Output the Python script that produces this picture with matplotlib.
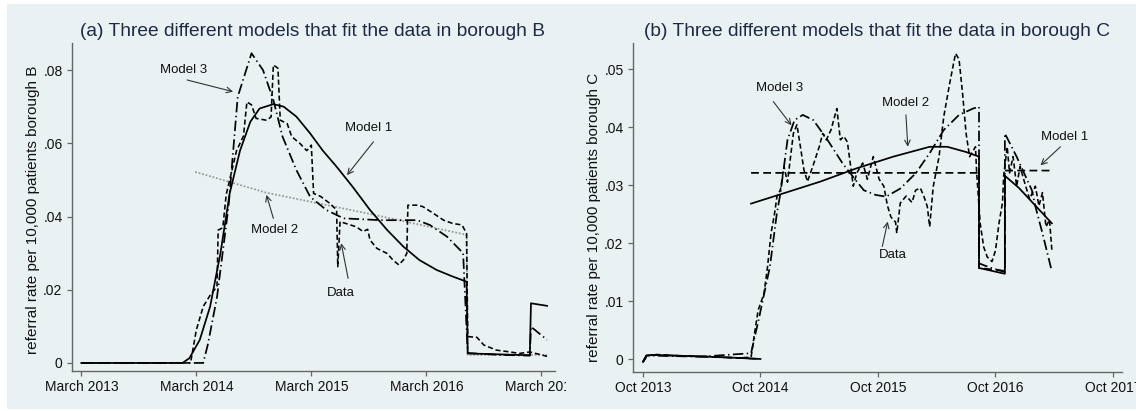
import matplotlib
matplotlib.use('Agg')
import matplotlib.pyplot as plt
from matplotlib.patches import Rectangle
from matplotlib.transforms import Bbox, TransformedBbox
import numpy as np

plt.rcParams['font.family'] = ['Liberation Sans', 'DejaVu Sans']

# ── data: panel (a) borough B  (x = decimal year) ────────────────────────────
b_m1_x = [2013.17, 2014.05, 2014.11, 2014.20, 2014.29, 2014.38, 2014.46, 2014.55,
          2014.64, 2014.72, 2014.84, 2014.93, 2015.04, 2015.16, 2015.27, 2015.39,
          2015.53, 2015.68, 2015.83, 2015.97, 2016.11, 2016.26, 2016.40, 2016.52,
          2016.53, 2017.07, 2017.08, 2017.22]
b_m1_y = [0, 0, 0.0013, 0.0063, 0.0154, 0.030, 0.0463, 0.058,
          0.0659, 0.0695, 0.0707, 0.070, 0.0673, 0.0627, 0.058, 0.0536,
          0.0481, 0.0418, 0.0363, 0.0318, 0.0281, 0.0254, 0.0236, 0.0222,
          0.0026, 0.0021, 0.0163, 0.0156]

b_m2_x = [2014.16, 2014.78, 2015.68, 2016.52, 2016.53, 2017.22]
b_m2_y = [0.0522, 0.0465, 0.0407, 0.035, 0.0022, 0.0022]

b_m3_x = [2013.17, 2014.23, 2014.27, 2014.35, 2014.45, 2014.53, 2014.65, 2014.75,
          2014.84, 2014.92, 2015.04, 2015.16, 2015.30, 2015.45, 2015.77, 2016.09,
          2016.20, 2016.35, 2016.49, 2016.53, 2016.81, 2017.07, 2017.08, 2017.22]
b_m3_y = [0, 0, 0.005, 0.018, 0.0427, 0.0727, 0.0846, 0.080,
          0.0718, 0.0618, 0.0527, 0.0454, 0.0418, 0.0395, 0.039, 0.039,
          0.0377, 0.0345, 0.030, 0.0027, 0.0022, 0.0020, 0.0099, 0.0063]

b_data_x = [2013.17, 2014.12, 2014.17, 2014.23, 2014.30, 2014.35, 2014.36, 2014.40,
            2014.43, 2014.52, 2014.58, 2014.61, 2014.65, 2014.69, 2014.78, 2014.82,
            2014.84, 2014.88, 2014.90, 2014.96, 2015.00, 2015.07, 2015.13, 2015.17,
            2015.19, 2015.25, 2015.33, 2015.39, 2015.40, 2015.42, 2015.56, 2015.62,
            2015.66, 2015.68, 2015.74, 2015.83, 2015.88, 2015.93, 2015.97, 2016.00,
            2016.01, 2016.09, 2016.14, 2016.23, 2016.32, 2016.40, 2016.48, 2016.52,
            2016.53, 2016.61, 2016.67, 2016.78, 2016.90, 2016.98, 2017.07, 2017.22]
b_data_y = [0, 0, 0.009, 0.0154, 0.019, 0.0208, 0.0363, 0.0369,
            0.046, 0.058, 0.062, 0.0713, 0.0705, 0.0668, 0.0663, 0.0672,
            0.0814, 0.0805, 0.0663, 0.0654, 0.0618, 0.060, 0.058, 0.0595,
            0.0463, 0.0455, 0.0436, 0.0418, 0.0263, 0.0386, 0.0372, 0.0359,
            0.0365, 0.0336, 0.0313, 0.0299, 0.0281, 0.0268, 0.0281, 0.0299,
            0.0431, 0.0431, 0.0427, 0.0409, 0.039, 0.0381, 0.0377, 0.0354,
            0.0072, 0.0070, 0.0049, 0.0035, 0.0030, 0.0026, 0.0030, 0.0018]

b_ticks = [2013.17, 2014.17, 2015.17, 2016.17, 2017.17]
b_ticklabels = ['March 2013', 'March 2014', 'March 2015', 'March 2016', 'March 2017']
b_yticks = [0, 0.02, 0.04, 0.06, 0.08]
b_yticklabels = ['0', '.02', '.04', '.06', '.08']

# ── data: panel (b) borough C  (nan = break between model periods) ──────────
c_pre_x = [2013.75, 2013.78, 2013.85, 2014.0, 2014.3, 2014.55, 2014.75]
c_pre_y = [-0.0005, 0.0006, 0.0007, 0.0006, 0.0004, 0.0002, 0.0000]

c_m1_x = c_pre_x + [np.nan, 2014.67, 2016.61, 2016.61, 2016.83, 2016.83, 2017.24]
c_m1_y = c_pre_y + [np.nan, 0.0321, 0.0321, 0.0157, 0.0152, 0.0325, 0.0325]

c_m2_x = c_pre_x + [np.nan, 2014.67, 2014.95, 2015.26, 2015.57, 2015.88, 2016.19,
                    2016.34, 2016.50, 2016.61, 2016.61, 2016.83, 2016.83, 2016.95,
                    2017.23]
c_m2_y = c_pre_y + [np.nan, 0.0268, 0.0286, 0.0306, 0.0329, 0.0349, 0.0366,
                    0.0366, 0.0357, 0.0349, 0.0157, 0.0147, 0.0316, 0.0295,
                    0.0234]

c_m3_x = [2013.75, 2013.78, 2014.24, 2014.67, 2014.74, 2014.83, 2014.89, 2014.92,
          2014.98, 2015.04, 2015.11, 2015.20, 2015.32, 2015.45, 2015.57, 2015.63,
          2015.73, 2015.82, 2015.94, 2016.07, 2016.19, 2016.31, 2016.44, 2016.56,
          2016.61, 2016.61, 2016.70, 2016.83, 2016.83, 2016.93, 2017.06, 2017.09,
          2017.15, 2017.23]
c_m3_y = [-0.0005, 0.0006, 0.0004, 0.001, 0.0073, 0.0159, 0.0252, 0.0286,
          0.0378, 0.0412, 0.0421, 0.0412, 0.0378, 0.0337, 0.0306, 0.0291,
          0.0283, 0.028, 0.0294, 0.032, 0.0355, 0.0395, 0.0421, 0.0432,
          0.0435, 0.0165, 0.0158, 0.0150, 0.0389, 0.0349, 0.0291, 0.0263,
          0.0217, 0.0151]

c_data_x = [2013.75, 2013.79, 2013.85, 2014.0, 2014.3, 2014.55, 2014.67, 2014.70,
            2014.73, 2014.78, 2014.81, 2014.84, 2014.87, 2014.89, 2014.92, 2014.95,
            2014.98, 2015.03, 2015.06, 2015.09, 2015.12, 2015.15, 2015.20, 2015.25,
            2015.28, 2015.31, 2015.35, 2015.40, 2015.43, 2015.46, 2015.49, 2015.54,
            2015.57, 2015.62, 2015.66, 2015.71, 2015.76, 2015.80, 2015.83, 2015.86,
            2015.90, 2015.91, 2015.94, 2015.99, 2016.04, 2016.07, 2016.11, 2016.14,
            2016.17, 2016.19, 2016.22, 2016.27, 2016.31, 2016.36, 2016.41, 2016.44,
            2016.47, 2016.50, 2016.53, 2016.58, 2016.59, 2016.62, 2016.65, 2016.68,
            2016.72, 2016.75, 2016.78, 2016.81, 2016.82, 2016.85, 2016.87, 2016.90,
            2016.93, 2016.96, 2016.99, 2017.04, 2017.09, 2017.12, 2017.15, 2017.18,
            2017.21, 2017.23]
c_data_y = [-0.0005, 0.0006, 0.0008, 0.0006, 0.0004, 0.0002, 0.0003, 0.0045,
            0.0084, 0.0113, 0.0159, 0.0217, 0.0251, 0.028, 0.0292, 0.0332,
            0.0305, 0.0389, 0.0404, 0.0366, 0.0326, 0.0306, 0.0335, 0.0366,
            0.0389, 0.0378, 0.0395, 0.0432, 0.0378, 0.0384, 0.0374, 0.0298,
            0.0321, 0.0338, 0.031, 0.0349, 0.031, 0.0298, 0.0265, 0.0245,
            0.0236, 0.0217, 0.0269, 0.0281, 0.0270, 0.0291, 0.0295, 0.0281,
            0.0263, 0.0228, 0.0297, 0.0349, 0.0418, 0.0475, 0.0527, 0.0517,
            0.0458, 0.0389, 0.0349, 0.0366, 0.0321, 0.0234, 0.0193, 0.0176,
            0.0168, 0.0187, 0.0234, 0.027, 0.0316, 0.0366, 0.0321, 0.0349,
            0.0298, 0.0332, 0.031, 0.0276, 0.0298, 0.0264, 0.0287, 0.0228,
            0.024, 0.0188]

c_ticks = [2013.75, 2014.75, 2015.75, 2016.75, 2017.75]
c_ticklabels = ['Oct 2013', 'Oct 2014', 'Oct 2015', 'Oct 2016', 'Oct 2017']
c_yticks = [0, 0.01, 0.02, 0.03, 0.04, 0.05]
c_yticklabels = ['0', '.01', '.02', '.03', '.04', '.05']

# ── style ────────────────────────────────────────────────────────────────────
BG = '#EAF1F3'
AXC = '#666666'
TITLE_C = '#1c2a45'
LW = 1.25
SOLID = dict(color='black', lw=LW, linestyle='-')
DATA = dict(color='black', lw=1.15, linestyle=(0, (3.2, 1.8)))
DASHDOT = dict(color='black', lw=LW, linestyle=(0, (6, 2, 0.8, 2)))
DOTTED = dict(color='#9a9a9a', lw=1.3, linestyle=(0, (1, 1)))
LONGDASH = dict(color='black', lw=LW, linestyle=(0, (4.5, 2.5)))

W, H = 1136, 411
fig = plt.figure(figsize=(W / 100, H / 100), dpi=100)
fig.patch.set_facecolor('white')
fig.patches.append(Rectangle((7 / W, 2 / H), 1 - 7 / W, 1 - 6 / H,
                             transform=fig.transFigure, facecolor=BG,
                             edgecolor='none', zorder=-5))


def px_axes(x0, x1, ytop, ybot):
    return fig.add_axes([x0 / W, 1 - ybot / H, (x1 - x0) / W, (ybot - ytop) / H])


def style_axes(ax):
    ax.set_facecolor('none')
    for s in ('top', 'right'):
        ax.spines[s].set_visible(False)
    for s in ('left', 'bottom'):
        ax.spines[s].set_color(AXC)
        ax.spines[s].set_linewidth(1.0)
    ax.tick_params(axis='both', direction='out', length=3.8, width=0.9,
                   color=AXC, labelsize=10, labelcolor='#111111', pad=3)


def note(ax, text, txy, axy, hxy):
    ax.text(*txy, text, ha='center', va='center', fontsize=9.5, color='#111111')
    ax.annotate('', xy=hxy, xytext=axy,
                arrowprops=dict(arrowstyle='->', color='#333333', lw=0.8,
                                mutation_scale=10, shrinkA=0, shrinkB=0))


# ── panel (a) ───────────────────────────────────────────────────────────────
ax1 = px_axes(72, 555, 43, 371)
style_axes(ax1)
ax1.plot(b_m2_x, b_m2_y, **DOTTED, zorder=2)
ax1.plot(b_m1_x, b_m1_y, **SOLID, zorder=3)
ax1.plot(b_m3_x, b_m3_y, **DASHDOT, zorder=3)
ax1.plot(b_data_x, b_data_y, **DATA, zorder=4)
ax1.set_xlim(2013.089, 2017.289)
ax1.set_ylim(-0.0022, 0.0874)
ax1.set_xticks(b_ticks)
ax1.set_xticklabels(b_ticklabels)
ax1.set_yticks(b_yticks)
ax1.set_yticklabels(b_yticklabels)

note(ax1, 'Model 3', (2014.06, 0.080), (2014.09, 0.0773), (2014.49, 0.0741))
note(ax1, 'Model 1', (2015.665, 0.0641), (2015.71, 0.0604), (2015.48, 0.0513))
note(ax1, 'Model 2', (2014.85, 0.0363), (2014.84, 0.0395), (2014.78, 0.0459))
note(ax1, 'Data', (2015.425, 0.019), (2015.49, 0.0231), (2015.43, 0.0327))

# left graph was cropped at x=566 px
clip = TransformedBbox(Bbox([[0, 0], [566 / W, 1]]), fig.transFigure)
for lab in ax1.get_xticklabels():
    lab.set_clip_box(clip)
    lab.set_clip_on(True)

# ── panel (b) ───────────────────────────────────────────────────────────────
ax2 = px_axes(633, 1122, 43, 372)
style_axes(ax2)
ax2.plot(c_m2_x, c_m2_y, **SOLID, zorder=3)
ax2.plot(c_m3_x, c_m3_y, **DASHDOT, zorder=3)
ax2.plot(c_m1_x, c_m1_y, **LONGDASH, zorder=3)
ax2.plot(c_data_x, c_data_y, **DATA, zorder=4)
ax2.set_xlim(2013.665, 2017.827)
ax2.set_ylim(-0.00224, 0.0545)
ax2.set_xticks(c_ticks)
ax2.set_xticklabels(c_ticklabels)
ax2.set_yticks(c_yticks)
ax2.set_yticklabels(c_yticklabels)

note(ax2, 'Model 3', (2014.914, 0.0467), (2014.859, 0.0444), (2015.014, 0.0403))
note(ax2, 'Model 2', (2015.988, 0.0441), (2015.988, 0.0421), (2016.004, 0.0366))
note(ax2, 'Model 1', (2017.335, 0.0383), (2017.303, 0.0366), (2017.133, 0.0334))
note(ax2, 'Data', (2015.88, 0.0179), (2015.787, 0.0194), (2015.833, 0.0237))

# ── titles and axis titles ──────────────────────────────────────────────────
fig.text(313 / W, 1 - 32 / H, '(a) Three different models that fit the data in borough B',
         ha='center', va='center', fontsize=13.8, color=TITLE_C)
fig.text(877 / W, 1 - 32 / H, '(b) Three different models that fit the data in borough C',
         ha='center', va='center', fontsize=13.8, color=TITLE_C)
fig.text(33 / W, 1 - 210 / H, 'referral rate per 10,000 patients borough B',
         rotation=90, ha='center', va='center', fontsize=11, color='#111111')
fig.text(594 / W, 1 - 217 / H, 'referral rate per 10,000 patients borough C',
         rotation=90, ha='center', va='center', fontsize=11, color='#111111')

fig.savefig('out.png', dpi=100, facecolor=fig.get_facecolor())
